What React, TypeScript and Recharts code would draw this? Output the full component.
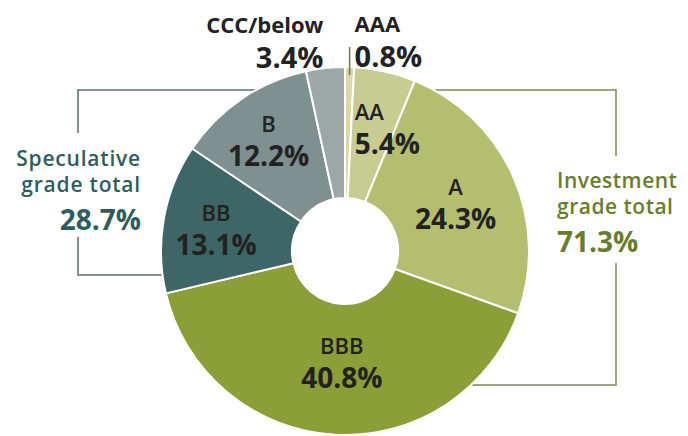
import React from 'react';
import { PieChart, Pie, Cell } from 'recharts';

const ratings = ['AAA', 'AA', 'A', 'BBB', 'BB', 'B', 'CCC/below'];
const shares = [0.8, 5.4, 24.3, 40.8, 13.1, 12.2, 3.4];
const groupTitles = ['Speculative', 'Investment'];
const groupSubtitle = 'grade total';
const groupTotals = [28.7, 71.3];

const data = ratings.map((name, i) => ({ name, value: shares[i] }));

const COLORS: Record<string, string> = {
  AAA: '#d6daa9',
  AA: '#c7cd91',
  A: '#b4be6f',
  BBB: '#8b9e37',
  BB: '#3e6666',
  B: '#7e908f',
  'CCC/below': '#9ba8a7',
};

// label placement style per slice (radius from centre, anchor, horizontal shift)
const LABEL_STYLE: Record<string, { r: number; anchor: 'start' | 'middle' | 'end'; dx: number }> = {
  AA: { r: 127, anchor: 'start', dx: -18 },
  A: { r: 121, anchor: 'middle', dx: 0 },
  BBB: { r: 110, anchor: 'middle', dx: 3 },
  BB: { r: 131, anchor: 'middle', dx: 0 },
  B: { r: 136, anchor: 'middle', dx: 0 },
};

const FONT = '"Open Sans", sans-serif';
const RAD = Math.PI / 180;
const TEXT = '#222222';
const SPEC_COLOR = '#2e5e5c';
const INV_COLOR = '#6a7c2b';

const renderLabel = (props: any) => {
  const { cx, cy, midAngle, outerRadius, index } = props;
  const name = ratings[index];
  const pct = `${shares[index]}%`;
  if (name === 'AAA' || name === 'CCC/below') {
    const ox = cx + outerRadius * Math.cos(-midAngle * RAD);
    const oy = cy + outerRadius * Math.sin(-midAngle * RAD);
    const isRight = name === 'AAA';
    const tx = isRight ? ox + 5 : ox - 2;
    const anchor = isRight ? 'start' : 'end';
    return (
      <g key={`lbl-${index}`}>
        {isRight && (
          <line x1={ox} y1={oy + 8} x2={ox} y2={oy - 20} stroke={INV_COLOR} strokeWidth={1.5} />
        )}
        <text x={tx} y={oy - 44} textAnchor={anchor} dominantBaseline="central" fontFamily={FONT} fontWeight={700} fontSize={22} fill={TEXT}>
          {name}
        </text>
        <text x={tx} y={oy - 12} textAnchor={anchor} dominantBaseline="central" fontFamily={FONT} fontWeight={700} fontSize={29} fill={TEXT}>
          {pct}
        </text>
      </g>
    );
  }
  const st = LABEL_STYLE[name];
  const x = cx + st.r * Math.cos(-midAngle * RAD) + st.dx;
  const y = cy + st.r * Math.sin(-midAngle * RAD);
  return (
    <g key={`lbl-${index}`}>
      <text x={x} y={y - 16} textAnchor={st.anchor} dominantBaseline="central" fontFamily={FONT} fontWeight={600} fontSize={22} fill={TEXT}>
        {name}
      </text>
      <text x={x} y={y + 16} textAnchor={st.anchor} dominantBaseline="central" fontFamily={FONT} fontWeight={700} fontSize={28} fill={TEXT}>
        {pct}
      </text>
    </g>
  );
};

const Brackets = () => (
  <g>
    <polyline points="330,90 78,90 78,133" fill="none" stroke="#55706f" strokeWidth={1.5} />
    <polyline points="78,237 78,275 192,275" fill="none" stroke="#55706f" strokeWidth={1.5} />
    <polyline points="380,90 616,90 616,156" fill="none" stroke="#7d8a55" strokeWidth={1.5} />
    <polyline points="616,263 616,385 443,385" fill="none" stroke="#7d8a55" strokeWidth={1.5} />
    <text x={141} y={158} textAnchor="end" dominantBaseline="central" fontFamily={FONT} fontWeight={600} fontSize={21} letterSpacing={0.8} fill={SPEC_COLOR}>
      {groupTitles[0]}
    </text>
    <text x={141} y={184} textAnchor="end" dominantBaseline="central" fontFamily={FONT} fontWeight={600} fontSize={21} letterSpacing={0.8} fill={SPEC_COLOR}>
      {groupSubtitle}
    </text>
    <text x={141} y={219} textAnchor="end" dominantBaseline="central" fontFamily={FONT} fontWeight={700} fontSize={28} fill={SPEC_COLOR}>
      {`${groupTotals[0]}%`}
    </text>
    <text x={557} y={180} textAnchor="start" dominantBaseline="central" fontFamily={FONT} fontWeight={600} fontSize={21} letterSpacing={0.5} fill={INV_COLOR}>
      {groupTitles[1]}
    </text>
    <text x={557} y={206} textAnchor="start" dominantBaseline="central" fontFamily={FONT} fontWeight={600} fontSize={21} letterSpacing={0.5} fill={INV_COLOR}>
      {groupSubtitle}
    </text>
    <text x={557} y={241} textAnchor="start" dominantBaseline="central" fontFamily={FONT} fontWeight={700} fontSize={28} fill={INV_COLOR}>
      {`${groupTotals[1]}%`}
    </text>
  </g>
);

export default function App() {
  return (
    <div style={{ position: 'absolute', left: 0, top: 0, width: 688, height: 436, background: '#ffffff' }}>
      <PieChart width={688} height={436} margin={{ top: 0, right: 0, bottom: 0, left: 0 }}>
        <Pie
          data={data}
          dataKey="value"
          nameKey="name"
          cx={345}
          cy={251}
          innerRadius={53}
          outerRadius={184}
          startAngle={90}
          endAngle={-270}
          stroke="#ffffff"
          strokeWidth={2}
          labelLine={false}
          label={renderLabel}
          isAnimationActive={false}
        >
          {data.map((d) => (
            <Cell key={d.name} fill={COLORS[d.name]} />
          ))}
        </Pie>
        <Brackets />
      </PieChart>
    </div>
  );
}
